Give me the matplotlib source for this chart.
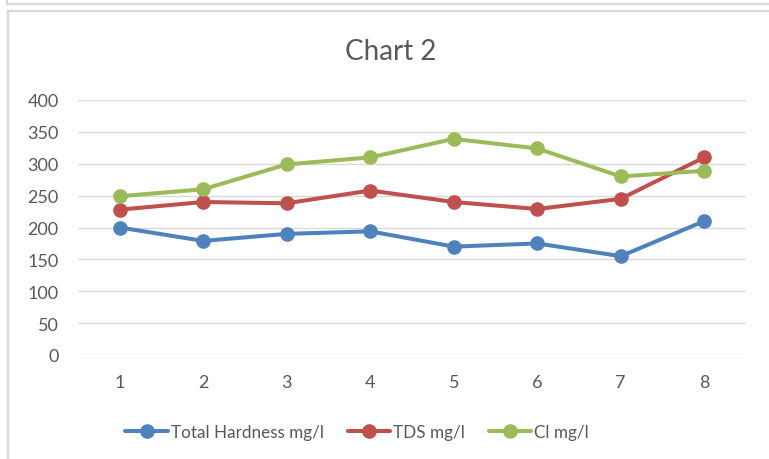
import matplotlib
matplotlib.use("Agg")
import matplotlib.pyplot as plt
from matplotlib.lines import Line2D

samples = [1, 2, 3, 4, 5, 6, 7, 8]
total_hardness = [200, 179, 190, 194, 170, 175, 155, 210]
tds = [228, 240, 238, 258, 240, 229, 245, 310]
chloride = [249, 260, 299, 310, 339, 324, 280, 289]

series = [
    ("Total Hardness mg/l", total_hardness, "#4F81BD"),
    ("TDS mg/l", tds, "#C0504D"),
    ("Cl mg/l", chloride, "#9BBB59"),
]

plt.rcParams["font.family"] = ["Lato", "DejaVu Sans"]

W, H = 769, 460
fig = plt.figure(figsize=(W / 100, H / 100), dpi=100)

# frame lines of the chart box (and the one above it)
frame = "#D9D9D9"
def px_line(x0, y0, x1, y1):
    fig.add_artist(Line2D([x0 / W, x1 / W], [1 - y0 / H, 1 - y1 / H],
                          transform=fig.transFigure, color=frame, lw=1.6))
px_line(7, 4.5, W, 4.5)
px_line(7, 0, 7, 4.5)
px_line(7.5, 11.5, W, 11.5)
px_line(7.5, 11.5, 7.5, H)

ax = fig.add_axes([78 / W, 1 - 356 / H, (746 - 78) / W, (356 - 101) / H])

for label, vals, col in series:
    ax.plot(samples, vals, color=col, lw=2.9, marker="o", markersize=9.5,
            label=label, solid_capstyle="round")

ax.set_xlim(0.5, 8.5)
ax.set_ylim(0, 400)
ax.set_yticks(range(0, 401, 50))
ax.set_xticks(samples)
ax.grid(axis="y", color="#D9D9D9", lw=1)
ax.set_axisbelow(True)
for s in ax.spines.values():
    s.set_visible(False)
ax.tick_params(length=0, labelsize=13, colors="#595959")
ax.tick_params(axis="y", pad=14)
ax.tick_params(axis="x", pad=14)

fig.text(391 / W, 1 - 52 / H, "Chart 2", ha="center", va="center",
         fontsize=20, color="#595959")

fig.legend(loc="center", bbox_to_anchor=(357 / W, 1 - 433 / H), ncol=3,
           frameon=False, fontsize=12.3, labelcolor="#595959",
           handlelength=2.5, handletextpad=0.15, columnspacing=1.4)

fig.savefig("out.png", dpi=100)
